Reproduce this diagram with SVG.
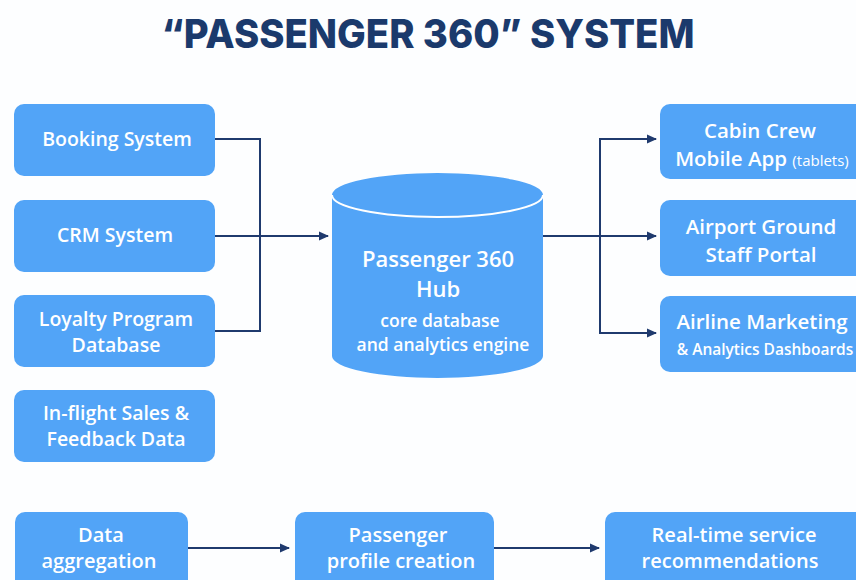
<svg xmlns="http://www.w3.org/2000/svg" width="856" height="580" viewBox="0 0 856 580">
<defs>
<style>
.box{fill:#52a4f7;}
.t{font-family:"Open Sans","Noto Sans",sans-serif;font-weight:600;fill:#ffffff;text-anchor:middle;}
.l{font-size:19.5px;}
.c{fill:none;stroke:#1f3a6e;stroke-width:2;}
</style>
<marker id="ah" markerWidth="10" markerHeight="10" refX="9" refY="5" orient="auto" markerUnits="userSpaceOnUse">
<path d="M0,0.5 L10,5 L0,9.5 Z" fill="#1f3a6e"/>
</marker>
</defs>
<rect width="856" height="580" fill="#fdfeff"/>
<text x="428" y="48" font-family="Inter,'Open Sans','Liberation Sans',sans-serif" font-weight="800" font-size="40" fill="#1b3a6c" text-anchor="middle" textLength="533" lengthAdjust="spacingAndGlyphs">“PASSENGER 360” SYSTEM</text>

<g id="connectors">
<polyline class="c" points="215,139 260,139 260,331 215,331"/>
<line class="c" x1="215" y1="236" x2="328" y2="236" marker-end="url(#ah)"/>
<line class="c" x1="543" y1="236" x2="656" y2="236" marker-end="url(#ah)"/>
<polyline class="c" points="656,139 600,139 600,333 656,333"/>
<line class="c" x1="640" y1="139" x2="656" y2="139" marker-end="url(#ah)"/>
<line class="c" x1="640" y1="333" x2="656" y2="333" marker-end="url(#ah)"/>
<line class="c" x1="188" y1="548" x2="289" y2="548" marker-end="url(#ah)"/>
<line class="c" x1="494" y1="548" x2="599" y2="548" marker-end="url(#ah)"/>
</g>

<g id="booking"><rect class="box" x="14" y="104" width="201" height="72" rx="10"/><text class="t l" x="117" y="146">Booking System</text></g>
<g id="crm"><rect class="box" x="14" y="200" width="201" height="72" rx="10"/><text class="t l" x="115" y="242">CRM System</text></g>
<g id="loyalty"><rect class="box" x="14" y="295" width="201" height="72" rx="10"/><text class="t l" x="116" y="326">Loyalty Program</text><text class="t l" x="116" y="352">Database</text></g>
<g id="inflight"><rect class="box" x="14" y="390" width="201" height="72" rx="10"/><text class="t l" x="116" y="420">In-flight Sales &amp;</text><text class="t l" x="116" y="446">Feedback Data</text></g>

<g id="hub">
<path class="box" d="M332,195 A105.5,22 0 0 1 543,195 L543,356 A105.5,22 0 0 1 332,356 Z"/>
<path d="M332,195 A105.5,22 0 0 0 543,195" fill="none" stroke="#ffffff" stroke-width="2"/>
<text class="t" x="438" y="267" font-size="22">Passenger 360</text>
<text class="t" x="438" y="297" font-size="22">Hub</text>
<text class="t" x="440" y="327" font-size="17.5" font-weight="500">core database</text>
<text class="t" x="443" y="351" font-size="17.5" font-weight="500">and analytics engine</text>
</g>

<g id="cabin"><rect class="box" x="660" y="104" width="206" height="75" rx="10"/><text class="t" x="760" y="138" font-size="20.5">Cabin Crew</text><text class="t" x="762" y="166" font-size="20.5">Mobile App <tspan font-size="15" font-weight="500">(tablets)</tspan></text></g>
<g id="airport"><rect class="box" x="660" y="200" width="206" height="76" rx="10"/><text class="t" x="761" y="234" font-size="20.5">Airport Ground</text><text class="t" x="761" y="262" font-size="20.5">Staff Portal</text></g>
<g id="marketing"><rect class="box" x="660" y="296" width="206" height="76" rx="10"/><text class="t" x="762" y="329" font-size="20.5">Airline Marketing</text><text class="t" x="765" y="355" font-size="15.5" font-weight="500">&amp; Analytics Dashboards</text></g>

<g id="aggregation"><rect class="box" x="15" y="512" width="173" height="80" rx="10"/><text class="t" x="101" y="542" font-size="20">Data</text><text class="t" x="99" y="568" font-size="20">aggregation</text></g>
<g id="profile"><rect class="box" x="295" y="512" width="199" height="80" rx="10"/><text class="t" x="398" y="542" font-size="20">Passenger</text><text class="t" x="401" y="568" font-size="20">profile creation</text></g>
<g id="realtime"><rect class="box" x="605" y="512" width="261" height="80" rx="10"/><text class="t" x="734" y="542" font-size="20">Real-time service</text><text class="t" x="730" y="568" font-size="20">recommendations</text></g>
</svg>
